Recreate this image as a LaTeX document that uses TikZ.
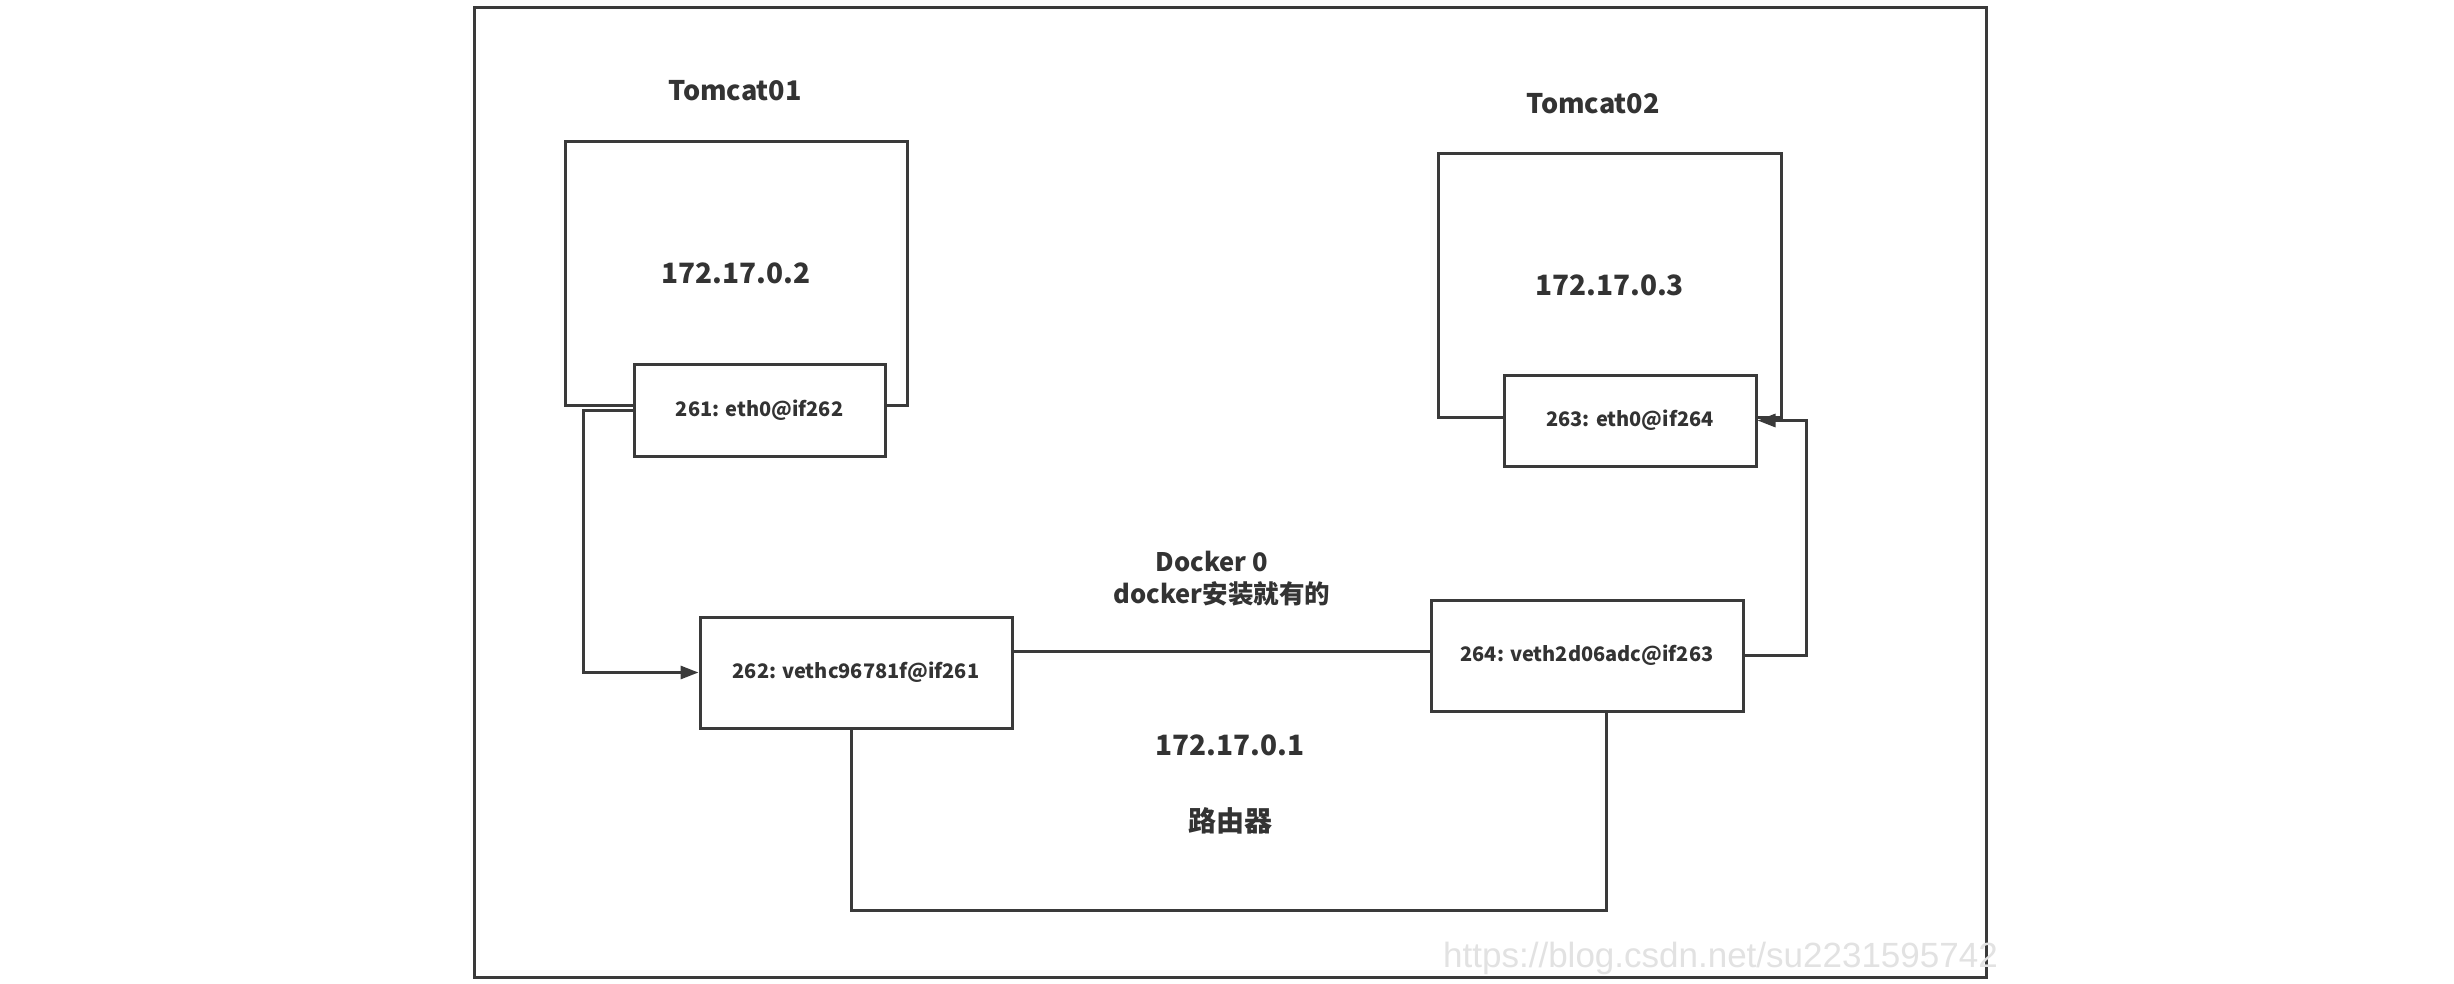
\documentclass[tikz,border=0pt]{standalone}
\usepackage{fontspec}
\setmainfont{Noto Sans CJK SC}
\newfontfamily\wmfont{Liberation Sans}
\usetikzlibrary{arrows.meta}
\definecolor{linec}{HTML}{3A3A3A}
\definecolor{textc}{HTML}{333333}
\definecolor{wmc}{HTML}{E2E2E2}
\begin{document}
\begin{tikzpicture}[x=1pt,y=-1pt,
  box/.style={draw=linec, line width=3pt, fill=white, inner sep=0pt, text=textc, align=center},
  conn/.style={draw=linec, line width=3pt},
  arr/.style={conn, -{Triangle[length=18pt,width=13pt]}},
  lbl/.style={text=textc, inner sep=0pt, align=center},
  bigf/.style={font=\fontsize{27}{32}\selectfont\bfseries},
  ipf/.style={font=\fontsize{28}{33}\selectfont\bfseries},
  smallf/.style={font=\fontsize{20}{24}\selectfont\bfseries},
  midf/.style={font=\fontsize{25.5}{30}\selectfont\bfseries}
]
\useasboundingbox (0,0) rectangle (2454,984);
\fill[white] (0,0) rectangle (2454,984);

% outer frame
\node[box, minimum width=1512pt, minimum height=969pt] (frame) at (1230,492.5) {};

% watermark
\node[anchor=west, inner sep=0pt, text=wmc, font=\wmfont\fontsize{35}{40}\selectfont] (wm) at (1443,958) {https://blog.csdn.net/su2231595742};

% Tomcat containers
\node[box, ipf, minimum width=342pt, minimum height=263pt] (t1) at (736,273.5) {172.17.0.2};
\node[box, ipf, minimum width=343pt, minimum height=263pt] (t2) at (1609.5,285.5) {172.17.0.3};
\node[lbl, bigf] (t1l) at (735,91) {Tomcat01};
\node[lbl, bigf] (t2l) at (1593,104) {Tomcat02};

% eth0 boxes
\node[box, smallf, minimum width=251pt, minimum height=92pt] (e1) at (759.5,410) {261: eth0@if262};
\node[box, smallf, minimum width=252pt, minimum height=91pt] (e2) at (1630,420.5) {263: eth0@if264};

% veth boxes
\node[box, smallf, minimum width=312pt, minimum height=111pt] (v1) at (856,672.5) {262: vethc96781f@if261};
\node[box, smallf, minimum width=312pt, minimum height=111pt] (v2) at (1587,655.5) {264: veth2d06adc@if263};

% docker0 labels
\node[lbl, midf] (d0) at (1212,561) {Docker 0};
\node[lbl, midf] (d1) at (1222,594) {docker安装就有的};
\node[lbl, ipf] (r1) at (1230,745) {172.17.0.1};
\node[lbl, ipf] (r2) at (1230,821) {路由器};

% connectors
\draw[arr] (e1.west) -- ++(-49,0) |- (v1.west);
\draw[arr] (v2.east) -- ++(62,0) |- (e2.east);
\coordinate (mid) at (1200,651);
\draw[conn] (v1.east |- mid) -- (v2.west |- mid);
\coordinate (rl) at (851,910);
\coordinate (rr) at (1606,910);
\draw[conn] (v1.south -| rl) -- (rl) -- (rr) -- (v2.south -| rr);
\end{tikzpicture}
\end{document}
